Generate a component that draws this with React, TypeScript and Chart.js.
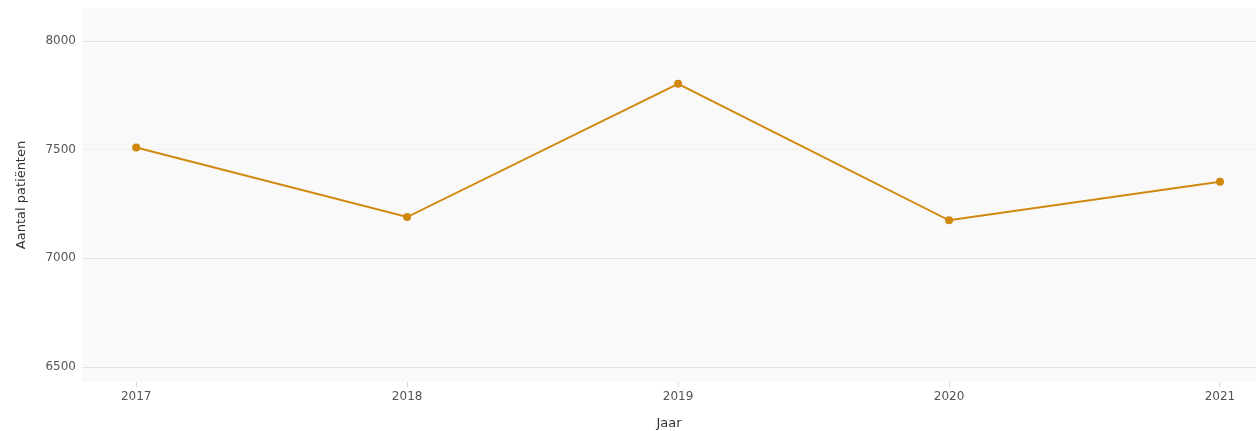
import React, { useEffect, useRef } from "react";
import { Chart, registerables } from "chart.js";

Chart.register(...registerables);

const years = [2017, 2018, 2019, 2020, 2021];
const patients = [7510, 7190, 7803, 7175, 7352];
const yTicks = [6500, 7000, 7500, 8000];

const lineColor = "#d1880f";

const bgPlugin = {
  id: "plotBg",
  beforeDraw(chart: any) {
    const { ctx, chartArea } = chart;
    ctx.save();
    ctx.fillStyle = "#f9f9f9";
    ctx.fillRect(chartArea.left, chartArea.top, chartArea.right - chartArea.left, chartArea.bottom - chartArea.top);
    ctx.restore();
  },
};

export default function App() {
  const ref = useRef<HTMLCanvasElement>(null);
  useEffect(() => {
    if (!ref.current) return;
    const chart = new Chart(ref.current, {
      type: "line",
      data: {
        datasets: [
          {
            data: years.map((y, i) => ({ x: y, y: patients[i] })),
            borderColor: lineColor,
            backgroundColor: lineColor,
            borderWidth: 2,
            pointRadius: 4,
            pointBackgroundColor: lineColor,
            pointBorderWidth: 0,
            tension: 0,
          },
        ],
      },
      options: {
        animation: false,
        responsive: false,
        maintainAspectRatio: false,
        layout: { autoPadding: false, padding: { top: 8, right: 0, left: 0, bottom: 0 } },
        plugins: { legend: { display: false }, tooltip: { enabled: false } },
        scales: {
          x: {
            type: "linear",
            min: 2016.8,
            max: 2021.133,
            afterBuildTicks: (s: any) => {
              s.ticks = years.map((v) => ({ value: v }));
            },
            afterFit: (s: any) => {
              s.height = 49;
              s.paddingLeft = 0;
              s.paddingRight = 0;
            },
            grid: { drawOnChartArea: false, drawTicks: true, tickLength: 5, color: "#d8d8d8" },
            border: { display: false },
            ticks: {
              callback: (v: any) => String(v),
              color: "#555",
              font: { family: "DejaVu Sans", size: 12 },
              padding: 3,
              maxRotation: 0,
            },
            title: {
              display: true,
              text: "Jaar",
              color: "#333",
              font: { family: "DejaVu Sans", size: 13 },
              padding: { top: 0, bottom: 0 },
            },
          },
          y: {
            min: 6431,
            max: 8152,
            afterBuildTicks: (s: any) => {
              s.ticks = yTicks.map((v) => ({ value: v }));
            },
            afterFit: (s: any) => {
              s.width = 82;
              s.paddingTop = 0;
              s.paddingBottom = 0;
            },
            grid: {
              drawTicks: false,
              color: (c: any) => (c.tick && c.tick.value === 7500 ? "#f1f1f1" : "#e2e2e2"),
              lineWidth: 1,
            },
            border: { display: false },
            ticks: {
              callback: (v: any) => String(v),
              color: "#555",
              font: { family: "DejaVu Sans", size: 12 },
              padding: 6,
            },
            title: {
              display: true,
              text: "Aantal patiënten",
              color: "#333",
              font: { family: "DejaVu Sans", size: 13 },
              padding: { top: 14, bottom: 0 },
            },
          },
        },
      },
      plugins: [bgPlugin],
    } as any);
    return () => chart.destroy();
  }, []);
  return (
    <div style={{ position: "fixed", left: 0, top: 0, width: 1256, height: 431, background: "#fff" }}>
      <canvas ref={ref} width={1256} height={431} style={{ display: "block" }} />
    </div>
  );
}
